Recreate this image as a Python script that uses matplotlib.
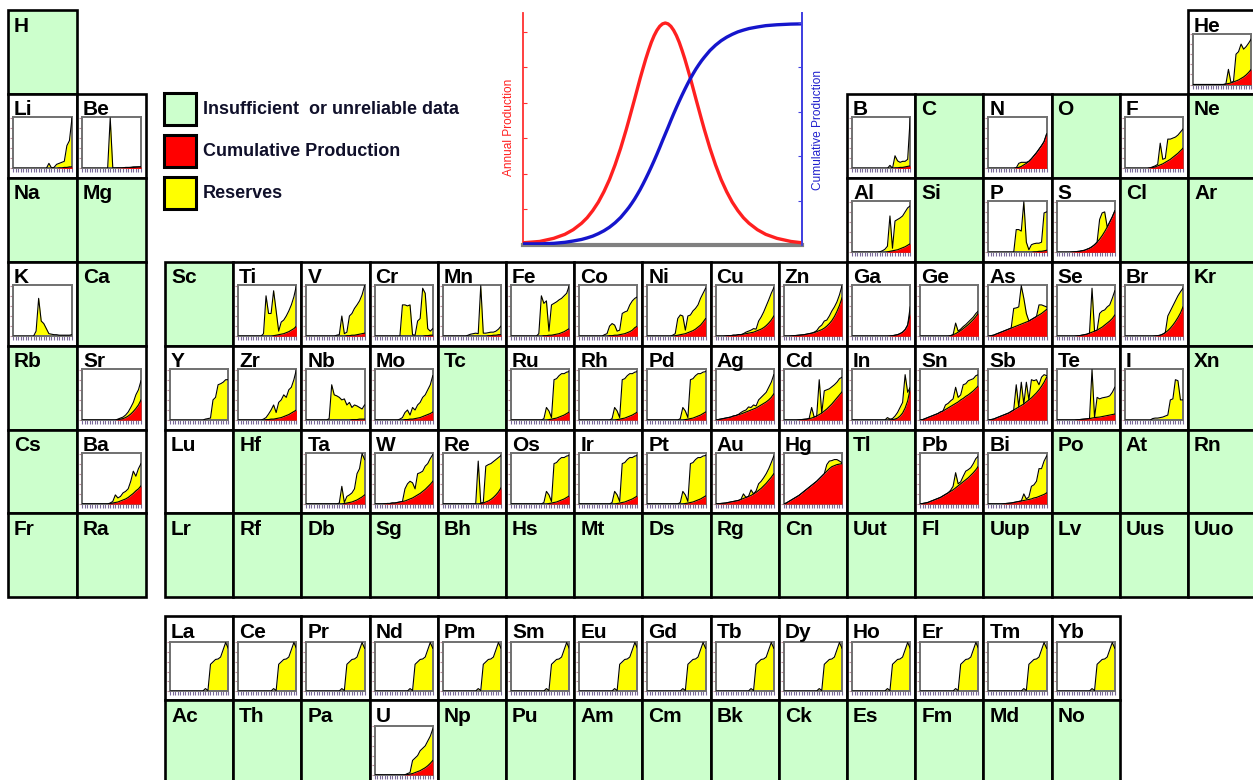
import matplotlib
matplotlib.use('Agg')
import matplotlib.pyplot as plt
from matplotlib.patches import Rectangle

plt.rcParams['font.family'] = ['Liberation Sans', 'DejaVu Sans']

# ---------------- data ----------------
YEARS = [1895, 1900, 1905, 1910, 1915, 1920, 1925, 1930, 1935, 1940, 1945, 1950,
         1955, 1960, 1965, 1970, 1975, 1980, 1985, 1990, 1995, 2000, 2005, 2010]
NONE = [0] * 24

# Hubbert illustration
HUB_X = [0, 6, 11, 15, 18, 21, 23, 25, 27, 29, 31, 33, 35, 37, 38, 39, 40, 41, 42, 43,
         44, 45, 46, 47, 48, 49, 50, 51, 52, 53, 54, 55, 56, 57, 58, 59, 60, 61, 62, 63,
         64, 65, 67, 69, 71, 73, 75, 77, 79, 81, 84, 87, 91, 96, 100]
HUB_ANNUAL = [1.0, 1.6, 3.0, 4.8, 6.9, 9.8, 12.3, 15.5, 19.3, 24.0, 29.5, 36.1, 43.6,
              52.0, 56.5, 61.1, 65.7, 70.4, 75.1, 79.5, 83.8, 87.7, 91.3, 94.3, 96.7,
              98.5, 99.6, 100, 99.6, 98.5, 96.7, 94.3, 91.3, 87.7, 83.8, 79.5, 75.1,
              70.4, 65.7, 61.1, 56.5, 52.0, 43.6, 36.1, 29.5, 24.0, 19.3, 15.5, 12.3,
              9.8, 6.9, 4.8, 3.0, 1.6, 1.0]
HUB_CUMUL = [0.5, 0.5, 0.75, 1.2, 1.8, 2.5, 3.2, 4.0, 5.1, 6.4, 8.0, 10.0, 12.4, 15.4,
             17.0, 18.8, 20.7, 22.8, 25.0, 27.4, 29.9, 32.5, 35.2, 38.0, 40.9, 43.9,
             47.0, 50, 53.0, 56.1, 59.1, 62.0, 64.8, 67.5, 70.1, 72.6, 75.0, 77.2, 79.3,
             81.2, 83.0, 84.6, 87.6, 90.0, 92.0, 93.6, 94.9, 96.0, 96.8, 97.5, 98.2,
             98.8, 99.2, 99.5, 99.6]

# per element: total (cumulative production + reserves) and cumulative production
He_t = [0]*13 + [1, 30, 4, 6, 60, 65, 80, 70, 75, 82, 90]
He_c = [0]*13 + [1, 2, 3, 5, 7, 9, 12, 15, 19, 24, 30]
Li_t = [0]*13 + [0, 10, 1, 2, 8, 10, 12, 14, 45, 55, 100]
Li_c = [0]*18 + [1, 1, 2, 2, 3, 3]
Be_t = [0]*11 + [100, 1, 1, 1, 1, 1, 2, 2, 2, 3, 3, 3, 3]
Be_c = [0]*14 + [0.5, 0.5, 1, 1, 1.5, 2, 2, 2.5, 3, 3]
B_t = [0]*14 + [0, 6, 0, 25, 15, 12, 14, 14, 18, 100]
B_c = [0]*17 + [1, 1, 2, 2, 3, 4, 5]
N_t = [0]*11 + [1, 10, 12, 12, 12, 14, 19, 25, 31, 38, 45, 53, 68]
N_c = [0]*11 + [1, 2, 4, 7, 10, 14, 19, 25, 31, 38, 45, 53, 68]
F_t = [0]*10 + [1, 3, 5, 8, 50, 18, 20, 58, 58, 60, 62, 66, 72, 78]
F_c = [0]*10 + [1, 2, 3, 5, 7, 9, 12, 15, 18, 22, 26, 30, 35, 40]
Al_t = [0]*11 + [1, 3, 6, 12, 72, 8, 62, 65, 68, 72, 80, 88, 92]
Al_c = [0]*14 + [1, 2, 3, 4, 5, 7, 9, 11, 14, 17]
P_t = [0]*10 + [0, 45, 45, 42, 100, 20, 5, 15, 17, 18, 18, 20, 78, 80]
P_c = [0]*18 + [1, 1, 2, 2, 3, 4]
S_t = [0]*6 + [0.5, 1, 1.5, 2, 3, 4, 6, 8, 11, 15, 20, 65, 78, 80, 50, 60, 70, 82]
S_c = [0]*6 + [0.5, 1, 1.5, 2, 3, 4, 6, 8, 11, 15, 20, 26, 33, 41, 50, 60, 70, 82]
K_t = [0]*9 + [10, 75, 30, 25, 15, 5, 4, 3, 3, 2, 2, 2, 2, 2, 3]
Sr_t = [0]*14 + [2, 4, 6, 10, 16, 25, 35, 50, 60, 78]
Sr_c = [0]*14 + [1, 2, 3, 5, 8, 12, 17, 23, 30, 40]
Ba_t = [0]*11 + [2, 5, 18, 12, 15, 22, 25, 30, 45, 65, 55, 70, 80]
Ba_c = [0]*11 + [1, 2, 3, 4, 6, 8, 10, 13, 17, 21, 26, 30, 36]
Ti_t = [0]*10 + [5, 80, 45, 45, 90, 50, 10, 28, 32, 40, 50, 62, 78, 100]
Ti_c = [0]*14 + [1, 2, 3, 4, 5, 7, 9, 12, 15, 20]
V_t = [0]*12 + [2, 3, 40, 5, 8, 40, 45, 55, 62, 70, 82, 100]
V_c = [0]*16 + [1, 1, 2, 2, 3, 4, 5, 6]
Cr_t = [0]*10 + [0, 62, 62, 60, 62, 3, 2, 30, 35, 95, 85, 15, 10, 15]
Cr_c = [0]*20 + [1, 1, 2, 2]
Mn_t = [0]*10 + [2, 4, 5, 6, 5, 100, 6, 6, 7, 8, 8, 10, 14, 20]
Mn_c = [0]*18 + [1, 1, 2, 2, 3, 3]
Fe_t = [0]*11 + [5, 80, 65, 70, 10, 62, 65, 68, 72, 75, 80, 85, 100]
Fe_c = [0]*13 + [1, 1, 2, 2, 3, 4, 5, 7, 9, 12, 15]
Co_t = [0]*10 + [3, 5, 20, 25, 22, 10, 12, 45, 48, 50, 62, 70, 75, 78]
Co_c = [0]*12 + [1, 1, 2, 2, 3, 4, 5, 7, 9, 12, 17, 20]
Ni_t = [0]*10 + [2, 5, 35, 42, 40, 12, 40, 42, 50, 55, 62, 75, 85, 95]
Ni_c = [0]*11 + [1, 2, 3, 4, 5, 7, 9, 11, 14, 18, 22, 28, 35]
Cu_t = [0]*4 + [0.5, 1, 1, 2, 2, 3, 3, 5, 8, 10, 12, 15, 14, 30, 38, 48, 60, 72, 85, 96]
Cu_c = [0]*4 + [0.5, 1, 1, 2, 2, 3, 3, 4, 5, 6, 7, 8, 10, 12, 14, 17, 21, 26, 32, 40]
Zn_t = [0]*3 + [0.5, 1, 1.5, 2, 2.5, 3, 4, 5, 6, 8, 11, 18, 22, 30, 32, 40, 50, 58, 68, 82, 100]
Zn_c = [0]*3 + [0.5, 1, 1.5, 2, 2.5, 3, 4, 5, 6, 7, 9, 11, 13, 16, 20, 25, 31, 39, 49, 61, 76]
Ga_t = [0]*15 + [0.5, 1, 2, 3, 5, 8, 13, 22, 58]
Ga_c = [0]*15 + [0.5, 1, 2, 3, 5, 8, 13, 22, 45]
Ge_t = [0]*12 + [1, 3, 26, 10, 14, 19, 23, 28, 33, 38, 45, 50]
Ge_c = [0]*12 + [1, 3, 5, 8, 11, 15, 19, 23, 28, 33, 39, 46]
As_t = [0, 1, 2, 4, 6, 8, 10, 12, 14, 16, 55, 56, 58, 100, 75, 45, 30, 33, 36, 39, 62, 62, 60, 58]
As_c = [0, 1, 2, 4, 6, 8, 10, 12, 14, 16, 18, 20, 22, 24, 26, 28, 30, 33, 36, 39, 42, 45, 49, 53]
Se_t = [0]*8 + [0.5, 1, 2, 3, 4, 6, 95, 10, 12, 45, 50, 52, 58, 62, 75, 90]
Se_c = [0]*8 + [0.5, 1, 2, 3, 4, 6, 8, 10, 12, 15, 18, 22, 26, 30, 35, 42]
Br_t = [0]*12 + [0.5, 1, 2, 4, 7, 40, 50, 60, 70, 80, 88, 95]
Br_c = [0]*12 + [0.5, 1, 2, 4, 7, 11, 16, 22, 29, 37, 46, 58]
Y_t = [0]*14 + [2, 3, 4, 40, 45, 70, 72, 75, 80, 80]
Zr_t = [0]*10 + [2, 5, 12, 20, 30, 15, 35, 40, 50, 45, 60, 65, 80, 100]
Zr_c = [0]*11 + [1, 1, 2, 2, 3, 4, 5, 7, 9, 11, 14, 17, 20]
Nb_t = [0]*9 + [3, 70, 50, 48, 45, 40, 42, 30, 35, 25, 30, 28, 25, 22, 30]
Nb_c = [0]*18 + [1, 1, 1, 2, 2, 2]
Mo_t = [0]*10 + [2, 5, 15, 20, 10, 25, 20, 30, 35, 45, 50, 60, 70, 88]
Mo_c = [0]*12 + [1, 1, 2, 2, 3, 4, 5, 7, 9, 11, 13, 16]
Ru_t = [0]*12 + [0, 3, 25, 18, 5, 80, 82, 88, 92, 92, 95, 96]
Ru_c = [0]*15 + [1, 2, 3, 4, 6, 8, 10, 13, 16]
Ag_t = [0, 1, 2, 3, 4, 5, 6, 8, 9, 11, 15, 18, 20, 26, 25, 30, 28, 40, 45, 50, 55, 65, 75, 90]
Ag_c = [0, 1, 2, 3, 4, 5, 6, 8, 9, 11, 12, 14, 16, 18, 20, 22, 24, 27, 30, 33, 36, 40, 45, 52]
Cd_t = [0]*6 + [0.5, 1, 1.5, 2, 3, 25, 6, 8, 80, 14, 58, 60, 62, 66, 70, 75, 82, 85]
Cd_c = [0]*6 + [0.5, 1, 1.5, 2, 3, 4, 6, 8, 11, 14, 18, 22, 27, 32, 38, 44, 50, 56]
In_t = [0]*14 + [5, 2, 3, 8, 15, 25, 35, 90, 55, 65]
In_c = [0]*15 + [0.5, 1, 2, 4, 8, 14, 24, 38, 62]
Sn_t = [0, 1, 3, 5, 7, 9, 11, 13, 16, 18, 30, 33, 38, 42, 65, 45, 50, 70, 72, 78, 80, 82, 88, 90]
Sn_c = [0, 1, 3, 5, 7, 9, 11, 13, 16, 18, 21, 24, 27, 30, 33, 36, 40, 43, 47, 50, 54, 58, 63, 68]
Sb_t = [0, 1, 2, 4, 6, 8, 10, 12, 14, 17, 20, 70, 26, 75, 32, 75, 40, 80, 78, 80, 70, 85, 90, 88]
Sb_c = [0, 1, 2, 4, 6, 8, 10, 12, 14, 17, 20, 23, 26, 29, 32, 36, 40, 44, 49, 54, 60, 67, 75, 85]
Te_t = [0]*8 + [0.5, 1, 1.5, 2, 2.5, 3, 100, 5, 45, 42, 44, 45, 46, 48, 55, 65]
Te_c = [0]*8 + [0.5, 1, 1.5, 2, 2.5, 3, 4, 5, 5.5, 6, 7, 8, 9, 10, 11, 12]
I_t = [0]*10 + [0, 3, 4, 4, 5, 6, 8, 10, 40, 42, 80, 78, 40, 40]
Ta_t = [0]*13 + [2, 35, 3, 15, 18, 22, 30, 60, 70, 100, 88]
Ta_c = [0]*15 + [1, 2, 3, 4, 6, 8, 11, 14, 18]
W_t = [0]*4 + [0.5, 1, 1, 2, 2, 3, 4, 5, 30, 40, 45, 42, 30, 60, 62, 65, 75, 80, 90, 98]
W_c = [0]*4 + [0.5, 1, 1, 2, 2, 3, 4, 5, 6, 8, 10, 12, 15, 18, 21, 25, 29, 34, 39, 45]
Re_t = [0]*14 + [85, 2, 3, 75, 78, 80, 84, 88, 92, 96]
Re_c = [0]*15 + [1, 2, 4, 6, 9, 13, 18, 24, 32]
Au_t = [0, 0.5, 1, 1.5, 2, 3, 4, 5, 6, 7, 9, 20, 13, 15, 28, 20, 26, 40, 45, 52, 60, 70, 82, 95]
Au_c = [0, 0.5, 1, 1.5, 2, 3, 4, 5, 6, 7, 9, 11, 13, 15, 17, 20, 23, 27, 31, 36, 41, 47, 53, 60]
Hg_t = [0, 2, 5, 8, 11, 14, 17, 21, 25, 29, 33, 37, 41, 45, 50, 55, 60, 78, 85, 86, 88, 88, 85, 82]
Hg_c = [0, 2, 5, 8, 11, 14, 17, 21, 25, 29, 33, 37, 41, 45, 50, 55, 60, 65, 70, 74, 76, 78, 79, 80]
Pb_t = [0, 1, 2, 3, 5, 7, 9, 11, 13, 16, 19, 22, 27, 35, 62, 40, 44, 55, 65, 68, 72, 80, 90, 95]
Pb_c = [0, 1, 2, 3, 5, 7, 9, 11, 13, 16, 19, 22, 25, 28, 32, 36, 40, 44, 48, 52, 57, 62, 68, 75]
Bi_t = [0]*6 + [0.5, 1, 1.5, 2, 3, 4, 5, 6, 20, 10, 14, 35, 38, 45, 70, 70, 85, 95]
Bi_c = [0]*6 + [0.5, 1, 1.5, 2, 3, 4, 5, 6, 7, 8, 9, 10, 12, 13, 15, 17, 19, 22]
La_t = [0]*14 + [5, 1, 55, 60, 65, 66, 70, 85, 100, 88]
U_t = [0]*12 + [0.5, 3, 5, 30, 35, 40, 50, 55, 60, 70, 80, 95]
U_c = [0]*12 + [0.5, 1, 2, 3, 5, 7, 9, 12, 15, 19, 24, 30]

CHARTS = {
    'He': (He_t, He_c), 'Li': (Li_t, Li_c), 'Be': (Be_t, Be_c), 'B': (B_t, B_c),
    'N': (N_t, N_c), 'F': (F_t, F_c), 'Al': (Al_t, Al_c), 'P': (P_t, P_c),
    'S': (S_t, S_c), 'K': (K_t, NONE), 'Sr': (Sr_t, Sr_c), 'Ba': (Ba_t, Ba_c),
    'Ti': (Ti_t, Ti_c), 'V': (V_t, V_c), 'Cr': (Cr_t, Cr_c), 'Mn': (Mn_t, Mn_c),
    'Fe': (Fe_t, Fe_c), 'Co': (Co_t, Co_c), 'Ni': (Ni_t, Ni_c), 'Cu': (Cu_t, Cu_c),
    'Zn': (Zn_t, Zn_c), 'Ga': (Ga_t, Ga_c), 'Ge': (Ge_t, Ge_c), 'As': (As_t, As_c),
    'Se': (Se_t, Se_c), 'Br': (Br_t, Br_c), 'Y': (Y_t, NONE), 'Zr': (Zr_t, Zr_c),
    'Nb': (Nb_t, Nb_c), 'Mo': (Mo_t, Mo_c), 'Ru': (Ru_t, Ru_c), 'Rh': (Ru_t, Ru_c),
    'Pd': (Ru_t, Ru_c), 'Ag': (Ag_t, Ag_c), 'Cd': (Cd_t, Cd_c), 'In': (In_t, In_c),
    'Sn': (Sn_t, Sn_c), 'Sb': (Sb_t, Sb_c), 'Te': (Te_t, Te_c), 'I': (I_t, NONE),
    'Ta': (Ta_t, Ta_c), 'W': (W_t, W_c), 'Re': (Re_t, Re_c), 'Os': (Ru_t, Ru_c),
    'Ir': (Ru_t, Ru_c), 'Pt': (Ru_t, Ru_c), 'Au': (Au_t, Au_c), 'Hg': (Hg_t, Hg_c),
    'Pb': (Pb_t, Pb_c), 'Bi': (Bi_t, Bi_c), 'U': (U_t, U_c),
}
for ln in ['La', 'Ce', 'Pr', 'Nd', 'Pm', 'Sm', 'Eu', 'Gd', 'Tb', 'Dy', 'Ho', 'Er', 'Tm', 'Yb']:
    CHARTS[ln] = (La_t, NONE)

TABLE_ROWS = [
    ['H'] + [None]*16 + ['He'],
    ['Li', 'Be'] + [None]*10 + ['B', 'C', 'N', 'O', 'F', 'Ne'],
    ['Na', 'Mg'] + [None]*10 + ['Al', 'Si', 'P', 'S', 'Cl', 'Ar'],
    ['K', 'Ca', 'Sc', 'Ti', 'V', 'Cr', 'Mn', 'Fe', 'Co', 'Ni', 'Cu', 'Zn', 'Ga', 'Ge', 'As', 'Se', 'Br', 'Kr'],
    ['Rb', 'Sr', 'Y', 'Zr', 'Nb', 'Mo', 'Tc', 'Ru', 'Rh', 'Pd', 'Ag', 'Cd', 'In', 'Sn', 'Sb', 'Te', 'I', 'Xn'],
    ['Cs', 'Ba', 'Lu', 'Hf', 'Ta', 'W', 'Re', 'Os', 'Ir', 'Pt', 'Au', 'Hg', 'Tl', 'Pb', 'Bi', 'Po', 'At', 'Rn'],
    ['Fr', 'Ra', 'Lr', 'Rf', 'Db', 'Sg', 'Bh', 'Hs', 'Mt', 'Ds', 'Rg', 'Cn', 'Uut', 'Fl', 'Uup', 'Lv', 'Uus', 'Uuo'],
    [None, None, 'La', 'Ce', 'Pr', 'Nd', 'Pm', 'Sm', 'Eu', 'Gd', 'Tb', 'Dy', 'Ho', 'Er', 'Tm', 'Yb'],
    [None, None, 'Ac', 'Th', 'Pa', 'U', 'Np', 'Pu', 'Am', 'Cm', 'Bk', 'Ck', 'Es', 'Fm', 'Md', 'No'],
]
WHITE_EMPTY = ['Lu']

LEGEND_LABELS = ['Insufficient  or unreliable data', 'Cumulative Production', 'Reserves']

# ---------------- drawing ----------------
W, H = 1253, 780
GREEN, RED, YEL = '#CCFFCC', '#FF0000', '#FFFF00'
fig = plt.figure(figsize=(W / 100, H / 100), dpi=100)
bg = fig.add_axes([0, 0, 1, 1])
bg.set_xlim(0, W)
bg.set_ylim(H, 0)
bg.axis('off')


def col_x(c):
    if c == 0:
        return 8.0, 69.0
    if c == 1:
        return 77.0, 69.0
    return 165 + (c - 2) * 68.2, 68.2


def row_y(r):
    if r <= 6:
        return 10 + r * 83.9, 83.9
    return 616 + (r - 7) * 84, 84


def px_axes(x, y, w, h):
    return fig.add_axes([x / W, 1 - (y + h) / H, w / W, h / H])


for r, row in enumerate(TABLE_ROWS):
    cy, ch = row_y(r)
    for c, sym in enumerate(row):
        if sym is None:
            continue
        cx, cw = col_x(c)
        has = sym in CHARTS
        fc = 'white' if (has or sym in WHITE_EMPTY) else GREEN
        bg.add_patch(Rectangle((cx, cy), cw, ch, facecolor=fc, edgecolor='black',
                               linewidth=1.9, zorder=2))
        # label drawn on the figure so that it sits above the mini charts
        fig.text((cx + 6) / W, 1 - (cy + 6.5) / H, sym, fontsize=15, fontweight='bold',
                 color='black', ha='left', va='top', zorder=10)
        if has:
            tot, cum = CHARTS[sym]
            off, hh = (26, 49) if r >= 7 else (23.5, 51)
            ax = px_axes(cx + 5, cy + off, cw - 10, hh)
            ax.fill_between(YEARS, cum, tot, color=YEL, linewidth=0, zorder=2)
            ax.plot(YEARS, tot, color='black', linewidth=0.8, zorder=3)
            ax.fill_between(YEARS, 0, cum, color=RED, linewidth=0, zorder=4)
            ax.plot(YEARS, cum, color='black', linewidth=0.8, zorder=5)
            ax.set_xlim(YEARS[0], YEARS[-1])
            ax.set_ylim(0, 101)
            ax.set_xticks(YEARS)
            ax.set_yticks([0, 20, 40, 60, 80, 100])
            ax.tick_params(axis='x', direction='out', length=3, width=0.8,
                           colors='#7a6a9a', labelbottom=False)
            ax.tick_params(axis='y', direction='out', length=2, width=0.8,
                           colors='#c08a9a', labelleft=False)
            for sp in ax.spines.values():
                sp.set_color('#707070')
                sp.set_linewidth(1.4)
            ax.set_facecolor('white')

# legend
for i, (lab, colr) in enumerate(zip(LEGEND_LABELS, [GREEN, RED, YEL])):
    y0 = 93 + i * 42
    bg.add_patch(Rectangle((164, y0), 32, 32, facecolor=colr, edgecolor='black',
                           linewidth=2.2, zorder=2))
    bg.text(203, y0 + 16, lab, fontsize=13, fontweight='bold', color='#10102a',
            ha='left', va='center', zorder=3)

# Hubbert inset
hx = px_axes(523, 13, 279, 232)
hx.plot(HUB_X, HUB_ANNUAL, color='#FF2020', linewidth=2.4, zorder=3)
hx.plot(HUB_X, HUB_CUMUL, color='#1515CC', linewidth=2.4, zorder=3)
hx.set_xlim(0, 100)
hx.set_ylim(0, 104.5)
hx.spines['top'].set_visible(False)
hx.spines['left'].set_color('#FF3030')
hx.spines['left'].set_linewidth(1.3)
hx.spines['right'].set_color('#4040E0')
hx.spines['right'].set_linewidth(1.3)
hx.spines['bottom'].set_color('#808080')
hx.spines['bottom'].set_linewidth(3)
hx.set_xticks([])
hx.set_yticks([16, 32, 48, 64, 80, 96])
hx.tick_params(axis='y', direction='in', length=3, width=0.8, colors='#FF3030',
               labelleft=False)
hx2 = hx.twinx()
hx2.set_ylim(0, 104.5)
for s in ['top', 'left', 'bottom']:
    hx2.spines[s].set_visible(False)
hx2.spines['right'].set_color('#4040E0')
hx2.spines['right'].set_linewidth(1.3)
hx2.set_yticks([20, 40, 60, 80, 100])
hx2.tick_params(axis='y', direction='in', length=3, width=0.8, colors='#4040E0',
                labelright=False)
bg.text(509, 127, 'Annual Production', rotation=90, fontsize=8.6, color='#FF2020',
        ha='center', va='center')
bg.text(818, 130, 'Cumulative Production', rotation=90, fontsize=8.6, color='#2020CC',
        ha='center', va='center')

fig.savefig('out.png', dpi=100)
